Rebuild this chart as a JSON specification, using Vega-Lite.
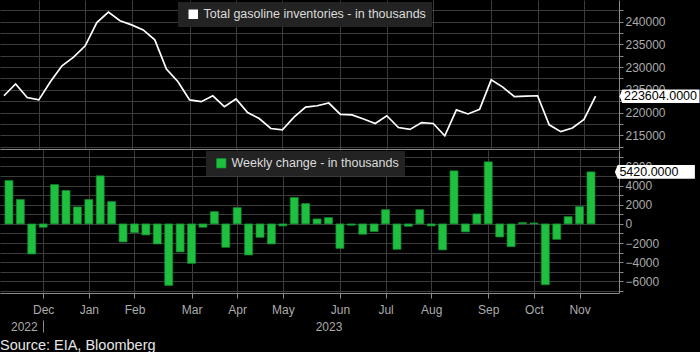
{
  "$schema": "https://vega.github.io/schema/vega-lite/v6.json",
  "background": "black",
  "padding": 0,
  "datasets": {
    "weekly": [
      {"date": "2022-11-16", "inventory": 223700, "change": 4520},
      {"date": "2022-11-23", "inventory": 226300, "change": 2540},
      {"date": "2022-11-30", "inventory": 223300, "change": -3130},
      {"date": "2022-12-07", "inventory": 222800, "change": -350},
      {"date": "2022-12-14", "inventory": 226800, "change": 4100},
      {"date": "2022-12-21", "inventory": 230300, "change": 3480},
      {"date": "2022-12-28", "inventory": 232200, "change": 1770},
      {"date": "2023-01-04", "inventory": 234700, "change": 2540},
      {"date": "2023-01-11", "inventory": 239800, "change": 5010},
      {"date": "2023-01-18", "inventory": 242100, "change": 2330},
      {"date": "2023-01-25", "inventory": 240200, "change": -1880},
      {"date": "2023-02-01", "inventory": 239300, "change": -910},
      {"date": "2023-02-08", "inventory": 238200, "change": -1150},
      {"date": "2023-02-15", "inventory": 236000, "change": -2090},
      {"date": "2023-02-22", "inventory": 229600, "change": -6410},
      {"date": "2023-03-01", "inventory": 226800, "change": -2920},
      {"date": "2023-03-08", "inventory": 222800, "change": -4110},
      {"date": "2023-03-15", "inventory": 222400, "change": -350},
      {"date": "2023-03-22", "inventory": 223700, "change": 1280},
      {"date": "2023-03-29", "inventory": 221300, "change": -2440},
      {"date": "2023-04-05", "inventory": 223000, "change": 1700},
      {"date": "2023-04-12", "inventory": 220000, "change": -3240},
      {"date": "2023-04-19", "inventory": 218700, "change": -1400},
      {"date": "2023-04-26", "inventory": 216500, "change": -2090},
      {"date": "2023-05-03", "inventory": 216200, "change": -210},
      {"date": "2023-05-10", "inventory": 219000, "change": 2750},
      {"date": "2023-05-17", "inventory": 221200, "change": 2120},
      {"date": "2023-05-24", "inventory": 221500, "change": 520},
      {"date": "2023-05-31", "inventory": 222100, "change": 660},
      {"date": "2023-06-07", "inventory": 219600, "change": -2550},
      {"date": "2023-06-14", "inventory": 219500, "change": -140},
      {"date": "2023-06-21", "inventory": 218600, "change": -1080},
      {"date": "2023-06-28", "inventory": 217600, "change": -800},
      {"date": "2023-07-05", "inventory": 219300, "change": 1490},
      {"date": "2023-07-12", "inventory": 216700, "change": -2650},
      {"date": "2023-07-19", "inventory": 216300, "change": -250},
      {"date": "2023-07-26", "inventory": 217800, "change": 1490},
      {"date": "2023-08-02", "inventory": 217600, "change": -210},
      {"date": "2023-08-09", "inventory": 214900, "change": -2710},
      {"date": "2023-08-16", "inventory": 220600, "change": 5530},
      {"date": "2023-08-23", "inventory": 219700, "change": -835},
      {"date": "2023-08-30", "inventory": 220700, "change": 1040},
      {"date": "2023-09-06", "inventory": 227200, "change": 6470},
      {"date": "2023-09-13", "inventory": 225600, "change": -1360},
      {"date": "2023-09-20", "inventory": 223500, "change": -2370},
      {"date": "2023-09-27", "inventory": 223600, "change": 140},
      {"date": "2023-10-04", "inventory": 223700, "change": 100},
      {"date": "2023-10-11", "inventory": 217300, "change": -6340},
      {"date": "2023-10-18", "inventory": 215800, "change": -1610},
      {"date": "2023-10-25", "inventory": 216600, "change": 760},
      {"date": "2023-11-01", "inventory": 218500, "change": 1800},
      {"date": "2023-11-08", "inventory": 223604, "change": 5420}
    ]
  },
  "data": {"name": "weekly"},
  "title": {
    "text": "Source: EIA, Bloomberg",
    "orient": "bottom",
    "anchor": "start",
    "frame": "group",
    "font": "Liberation Sans",
    "fontSize": 14.5,
    "fontWeight": "normal",
    "color": "#e6e6e6",
    "offset": 6
  },
  "spacing": 1,
  "resolve": {
    "scale": {"color": "independent", "y": "independent", "x": "independent"},
    "legend": {"color": "independent"}
  },
  "vconcat": [
    {
      "width": 619,
      "height": 149,
      "resolve": {"axis": {"x": "independent", "y": "independent"}},
      "layer": [
        {
          "mark": {"type": "line", "strokeWidth": 1.7},
          "encoding": {
            "x": {
              "field": "date",
              "type": "temporal",
              "scale": {
                "type": "utc",
                "domain": [
                  {"year": 2022, "month": 11, "date": 13, "hours": 14, "minutes": 4, "utc": true},
                  {"year": 2023, "month": 11, "date": 22, "hours": 2, "minutes": 53, "utc": true}
                ]
              },
              "axis": {
                "title": null,
                "labels": false,
                "ticks": false,
                "domain": true,
                "domainColor": "#8a8a8a",
                "grid": true,
                "values": [
                  {"year": 2022, "month": 12, "date": 7, "utc": true},
                  {"year": 2023, "month": 1, "date": 4, "utc": true},
                  {"year": 2023, "month": 2, "date": 1, "utc": true},
                  {"year": 2023, "month": 3, "date": 8, "utc": true},
                  {"year": 2023, "month": 4, "date": 5, "utc": true},
                  {"year": 2023, "month": 5, "date": 3, "utc": true},
                  {"year": 2023, "month": 6, "date": 7, "utc": true},
                  {"year": 2023, "month": 7, "date": 5, "utc": true},
                  {"year": 2023, "month": 8, "date": 2, "utc": true},
                  {"year": 2023, "month": 9, "date": 6, "utc": true},
                  {"year": 2023, "month": 10, "date": 4, "utc": true},
                  {"year": 2023, "month": 11, "date": 1, "utc": true}
                ]
              }
            },
            "y": {
              "field": "inventory",
              "type": "quantitative",
              "scale": {"domain": [211985, 244775], "zero": false, "nice": false},
              "axis": {
                "orient": "right",
                "title": null,
                "format": "d",
                "labelOverlap": false,
                "values": [212500, 215000, 217500, 220000, 222500, 225000, 227500, 230000, 232500, 235000, 237500, 240000, 242500],
                "labelExpr": "datum.value % 5000 === 0 ? datum.label : ''",
                "labelFontSize": {"condition": {"test": "datum.value % 5000 !== 0", "value": 0}, "value": 12}
              }
            },
            "color": {
              "datum": "Total gasoline inventories - in thousands",
              "scale": {"range": ["#ffffff"]},
              "legend": {
                "title": null,
                "orient": "none",
                "legendX": 178,
                "legendY": 2,
                "symbolType": "square",
                "symbolFillColor": "#ffffff",
                "symbolStrokeColor": "#ffffff",
                "symbolStrokeWidth": 0,
                "labelExpr": "datum.label + '\u00a0\u00a0\u00a0'"
              }
            }
          }
        },
        {
          "transform": [{"filter": "datum.inventory === 223604"}],
          "mark": {
            "type": "point",
            "shape": "M-1,0L-0.93,-0.17L1,-0.17L1,0.17L-0.93,0.17Z",
            "size": 6400,
            "filled": true,
            "fill": "#ffffff",
            "opacity": 1,
            "strokeWidth": 0,
            "xOffset": 63.9
          },
          "encoding": {
            "x": {"field": "date", "type": "temporal", "axis": null},
            "y": {"field": "inventory", "type": "quantitative", "axis": null}
          }
        },
        {
          "transform": [{"filter": "datum.inventory === 223604"}],
          "mark": {
            "type": "text",
            "align": "left",
            "baseline": "middle",
            "dx": 28.4,
            "font": "Liberation Sans",
            "fontSize": 12.5,
            "color": "#000000"
          },
          "encoding": {
            "x": {"field": "date", "type": "temporal", "axis": null},
            "y": {"field": "inventory", "type": "quantitative", "axis": null},
            "text": {"field": "inventory", "type": "quantitative", "format": ".4f"}
          }
        }
      ]
    },
    {
      "width": 619,
      "height": 143,
      "resolve": {"axis": {"x": "independent", "y": "independent"}},
      "layer": [
        {
          "mark": {"type": "bar", "size": 8, "stroke": "#138a2d", "strokeWidth": 0.7},
          "encoding": {
            "x": {
              "field": "date",
              "type": "temporal",
              "scale": {
                "type": "utc",
                "domain": [
                  {"year": 2022, "month": 11, "date": 13, "hours": 14, "minutes": 4, "utc": true},
                  {"year": 2023, "month": 11, "date": 22, "hours": 2, "minutes": 53, "utc": true}
                ]
              },
              "axis": {
                "title": null,
                "domain": true,
                "domainColor": "#8a8a8a",
                "ticks": true,
                "tickSize": 5,
                "labelPadding": 6,
                "labelOverlap": false,
                "grid": true,
                "labelExpr": "utcFormat(datum.value, '%b')",
                "values": [
                  {"year": 2022, "month": 12, "date": 7, "utc": true},
                  {"year": 2023, "month": 1, "date": 4, "utc": true},
                  {"year": 2023, "month": 2, "date": 1, "utc": true},
                  {"year": 2023, "month": 3, "date": 8, "utc": true},
                  {"year": 2023, "month": 4, "date": 5, "utc": true},
                  {"year": 2023, "month": 5, "date": 3, "utc": true},
                  {"year": 2023, "month": 6, "date": 7, "utc": true},
                  {"year": 2023, "month": 7, "date": 5, "utc": true},
                  {"year": 2023, "month": 8, "date": 2, "utc": true},
                  {"year": 2023, "month": 9, "date": 6, "utc": true},
                  {"year": 2023, "month": 10, "date": 4, "utc": true},
                  {"year": 2023, "month": 11, "date": 1, "utc": true}
                ]
              }
            },
            "y": {
              "field": "change",
              "type": "quantitative",
              "scale": {"domain": [-7200, 7700], "zero": false, "nice": false},
              "axis": {
                "orient": "right",
                "title": null,
                "format": "d",
                "labelOverlap": false,
                "values": [-7000, -6000, -5000, -4000, -3000, -2000, -1000, 0, 1000, 2000, 3000, 4000, 5000, 6000, 7000],
                "labelExpr": "datum.value % 2000 === 0 ? datum.label : ''",
                "labelFontSize": {"condition": {"test": "datum.value % 2000 !== 0", "value": 0}, "value": 12}
              }
            },
            "color": {
              "datum": "Weekly change - in thousands",
              "scale": {"range": ["#1fbf3f"]},
              "legend": {
                "title": null,
                "orient": "none",
                "legendX": 206,
                "legendY": 1,
                "symbolType": "square",
                "symbolStrokeColor": "#138a2d",
                "symbolStrokeWidth": 0.7,
                "labelExpr": "datum.label + '\u00a0\u00a0\u00a0'"
              }
            }
          }
        },
        {
          "transform": [{"filter": "datum.change === 5420"}],
          "mark": {
            "type": "point",
            "shape": "M-1,0L-0.93,-0.17L1,-0.17L1,0.17L-0.93,0.17Z",
            "size": 6400,
            "filled": true,
            "fill": "#ffffff",
            "opacity": 1,
            "strokeWidth": 0,
            "xOffset": 63.9
          },
          "encoding": {
            "x": {
              "field": "date",
              "type": "temporal",
              "axis": {
                "title": null,
                "orient": "bottom",
                "offset": 27,
                "domain": false,
                "grid": false,
                "ticks": true,
                "tickSize": 12,
                "tickColor": "#8a8a8a",
                "labelOverlap": false,
                "tickOpacity": {"condition": {"test": "utcyear(datum.value) === 2022", "value": 1}, "value": 0},
                "labelPadding": -11,
                "labelAlign": {"condition": {"test": "utcyear(datum.value) === 2022", "value": "right"}, "value": "center"},
                "labelOffset": {"condition": {"test": "utcyear(datum.value) === 2022", "value": -6}, "value": 0},
                "labelExpr": "utcFormat(datum.value, '%Y')",
                "values": [
                  {"year": 2022, "month": 12, "date": 7, "utc": true},
                  {"year": 2023, "month": 5, "date": 31, "utc": true}
                ]
              }
            },
            "y": {"field": "change", "type": "quantitative", "axis": null}
          }
        },
        {
          "transform": [{"filter": "datum.change === 5420"}],
          "mark": {
            "type": "text",
            "align": "left",
            "baseline": "middle",
            "dx": 28.4,
            "font": "Liberation Sans",
            "fontSize": 12.5,
            "color": "#000000"
          },
          "encoding": {
            "x": {"field": "date", "type": "temporal", "axis": null},
            "y": {"field": "change", "type": "quantitative", "axis": null},
            "text": {"field": "change", "type": "quantitative", "format": ".4f"}
          }
        }
      ]
    }
  ],
  "config": {
    "background": "black",
    "font": "Liberation Sans",
    "view": {"stroke": null, "fill": "black"},
    "axis": {
      "zindex": 0,
      "gridColor": "#3c3c3c",
      "gridWidth": 1,
      "domainColor": "#8a8a8a",
      "tickColor": "#8a8a8a",
      "tickSize": 4,
      "labelColor": "#ababab",
      "labelFont": "Liberation Sans",
      "labelFontSize": 12,
      "labelPadding": 2
    },
    "axisY": {"labelBaseline": "middle"},
    "legend": {
      "fillColor": "#232323",
      "padding": 6,
      "symbolSize": 90,
      "symbolOffset": 3,
      "labelOffset": 4,
      "labelColor": "#dcdcdc",
      "labelFont": "Liberation Sans",
      "labelFontSize": 12.5,
      "labelLimit": 400
    }
  }
}
